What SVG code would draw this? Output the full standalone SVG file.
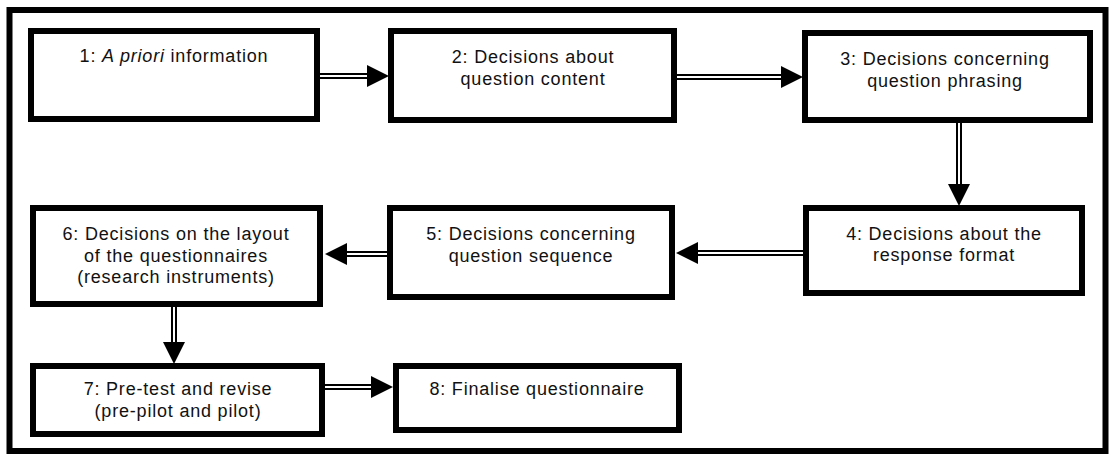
<svg xmlns="http://www.w3.org/2000/svg" width="1110" height="455" viewBox="0 0 1110 455">
<defs>
<style>
.frame{fill:none;stroke:#000;stroke-width:6}
.box{fill:#fff;stroke:#000;stroke-width:6}
.t{font-family:"Liberation Sans",Arial,sans-serif;font-size:18px;letter-spacing:0.8px;fill:#111;text-anchor:middle}
.so{fill:none;stroke:#000;stroke-width:6}
.si{fill:none;stroke:#fff;stroke-width:2}
</style>
<marker id="head" markerUnits="userSpaceOnUse" markerWidth="22" markerHeight="22" viewBox="0 0 22 22" refX="0" refY="11" orient="auto">
<path d="M0,0 L22,11 L0,22 Z" fill="#000"/>
</marker>
</defs>
<rect x="0" y="0" width="1110" height="455" fill="#fff"/>
<rect class="frame" x="9.5" y="10" width="1096" height="441"/>
<g id="connectors">
<path class="so" d="M320,76 H367" marker-end="url(#head)"/><path class="si" d="M320,76 H367"/>
<path class="so" d="M677,77 H781" marker-end="url(#head)"/><path class="si" d="M677,77 H781"/>
<path class="so" d="M959,122 V184" marker-end="url(#head)"/><path class="si" d="M959,122 V184"/>
<path class="so" d="M803,253 H698" marker-end="url(#head)"/><path class="si" d="M803,253 H698"/>
<path class="so" d="M387,254 H347" marker-end="url(#head)"/><path class="si" d="M387,254 H347"/>
<path class="so" d="M174,307 V342" marker-end="url(#head)"/><path class="si" d="M174,307 V342"/>
<path class="so" d="M325,387 H371" marker-end="url(#head)"/><path class="si" d="M325,387 H371"/>
</g>
<g id="n1"><rect class="box" x="31" y="31" width="286" height="88"/>
<text class="t" x="174" y="62">1: <tspan font-style="italic">A priori</tspan> information</text></g>
<g id="n2"><rect class="box" x="391" y="31" width="283" height="89"/>
<text class="t" x="533" y="63">2: Decisions about</text><text class="t" x="533" y="85">question content</text></g>
<g id="n3"><rect class="box" x="805" y="33" width="285" height="87"/>
<text class="t" x="945" y="65">3: Decisions concerning</text><text class="t" x="945" y="87">question phrasing</text></g>
<g id="n4"><rect class="box" x="806" y="208" width="276" height="85"/>
<text class="t" x="944" y="240">4: Decisions about the</text><text class="t" x="944" y="261">response format</text></g>
<g id="n5"><rect class="box" x="390" y="208" width="282" height="89"/>
<text class="t" x="531" y="240">5: Decisions concerning</text><text class="t" x="531" y="262">question sequence</text></g>
<g id="n6"><rect class="box" x="33" y="208" width="287" height="96"/>
<text class="t" x="176" y="240">6: Decisions on the layout</text><text class="t" x="176" y="262">of the questionnaires</text><text class="t" x="176" y="283">(research instruments)</text></g>
<g id="n7"><rect class="box" x="33" y="366" width="289" height="68"/>
<text class="t" x="178" y="395">7: Pre-test and revise</text><text class="t" x="178" y="417">(pre-pilot and pilot)</text></g>
<g id="n8"><rect class="box" x="396" y="366" width="283" height="64"/>
<text class="t" x="537" y="395">8: Finalise questionnaire</text></g>
</svg>
